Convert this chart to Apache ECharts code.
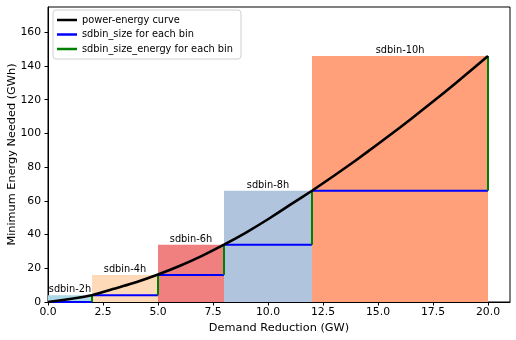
<!DOCTYPE html>
<html>
<head>
<meta charset="utf-8">
<script src="https://cdn.jsdelivr.net/npm/echarts@6/dist/echarts.min.js"></script>
<style>html,body{margin:0;padding:0;background:#fff}#c{width:516px;height:340px}</style>
</head>
<body>
<div id="c"></div>
<script>
// ---- data ----
const curveX = [0,1,2,3,4,5,6,7,8,9,10,11,12,13,14,15,16,17,18,19,20];
const curveY = [0,1.8,4,7.8,11.7,16.3,21.5,27.4,34,41.2,49.1,57.6,66,74.9,84.1,93.7,103.5,113.7,124.1,134.9,146];
const binEdges = [0,2,5,8,12,20];
const binEnergy = [4,16,34,66,146];
const binLabels = ['sdbin-2h','sdbin-4h','sdbin-6h','sdbin-8h','sdbin-10h'];
const xTicks = [0,2.5,5,7.5,10,12.5,15,17.5,20];
const yTicks = [0,20,40,60,80,100,120,140,160];
const seriesNames = ['power-energy curve','sdbin_size for each bin','sdbin_size_energy for each bin'];

// ---- styles ----
const binColors = ['#add8e6','#ffdab9','#f08080','#b0c4de','#ffa07a'];
const FONT = 'DejaVu Sans';

const curveData = curveX.map((x,i)=>[x,curveY[i]]);
const rectData = binLabels.map((l,i)=>[binEdges[i],binEdges[i+1],binEnergy[i],i]);
const blueData = [], greenData = [];
for (let i=0;i<binLabels.length;i++){
  const prev = i===0 ? 0 : binEnergy[i-1];
  blueData.push([binEdges[i],prev],[binEdges[i+1],prev],['-','-']);
  greenData.push([binEdges[i+1],prev],[binEdges[i+1],binEnergy[i]],['-','-']);
}

const chart = echarts.init(document.getElementById('c'));
chart.setOption({
  animation:false,
  textStyle:{fontFamily:FONT},
  grid:{left:48,right:6,top:7,bottom:38,containLabel:false,outerBoundsMode:'none',show:true,borderColor:'#000',borderWidth:1,backgroundColor:'transparent'},
  legend:{
    left:53,top:10,orient:'vertical',
    padding:[4,8,4,4],itemGap:2.5,itemWidth:20,itemHeight:2.5,
    backgroundColor:'rgba(255,255,255,0.85)',borderColor:'#d0d0d0',borderWidth:1,borderRadius:3,
    textStyle:{fontFamily:FONT,fontSize:9.8,color:'#000',lineHeight:12},
    data:seriesNames.map(n=>({name:n,icon:'rect'}))
  },
  xAxis:{
    type:'value',min:0,max:21,
    name:'Demand Reduction (GW)',nameLocation:'middle',nameGap:21,nameMoveOverlap:false,
    nameTextStyle:{fontFamily:FONT,fontSize:11.3,color:'#000'},
    axisLine:{show:true,onZero:false,lineStyle:{color:'#000',width:1}},
    axisTick:{show:true,length:3.5,lineStyle:{color:'#000'},customValues:xTicks},
    axisLabel:{fontFamily:FONT,fontSize:10.8,color:'#000',margin:5,customValues:xTicks,formatter:v=>v.toFixed(1)},
    splitLine:{show:false}
  },
  yAxis:{
    type:'value',min:0,max:175,
    name:'Minimum Energy Needed (GWh)',nameLocation:'middle',nameGap:30,nameMoveOverlap:false,
    nameTextStyle:{fontFamily:FONT,fontSize:11.3,color:'#000'},
    axisLine:{show:true,onZero:false,lineStyle:{color:'#000',width:1}},
    axisTick:{show:true,length:3.5,lineStyle:{color:'#000'},customValues:yTicks},
    axisLabel:{fontFamily:FONT,fontSize:10.8,color:'#000',margin:7,customValues:yTicks},
    splitLine:{show:false}
  },
  series:[
    {
      type:'custom',name:'bins',z:1,silent:true,
      data:rectData,
      encode:{x:[0,1],y:2},
      renderItem:function(params,api){
        const p0 = api.coord([api.value(0),api.value(2)]);
        const p1 = api.coord([api.value(1),0]);
        const idx = api.value(3);
        return {type:'group',children:[
          {type:'rect',shape:{x:p0[0],y:p0[1],width:p1[0]-p0[0],height:p1[1]-p0[1]},style:{fill:binColors[idx]}},
          {type:'text',style:{text:binLabels[idx],x:(p0[0]+p1[0])/2,y:p0[1]-0.5,align:'center',verticalAlign:'bottom',fontFamily:FONT,fontSize:9.8,fill:'#000'}}
        ]};
      }
    },
    {type:'line',name:seriesNames[1],data:blueData,showSymbol:false,symbol:'none',z:3,connectNulls:false,
      lineStyle:{color:'#0000ff',width:2},itemStyle:{color:'#0000ff'}},
    {type:'line',name:seriesNames[2],data:greenData,showSymbol:false,symbol:'none',z:3,connectNulls:false,
      lineStyle:{color:'#008000',width:2},itemStyle:{color:'#008000'}},
    {type:'line',name:seriesNames[0],data:curveData,showSymbol:false,symbol:'none',z:4,smooth:0.15,
      lineStyle:{color:'#000',width:2.6,join:'round'},itemStyle:{color:'#000'}}
  ]
});
</script>
</body>
</html>
